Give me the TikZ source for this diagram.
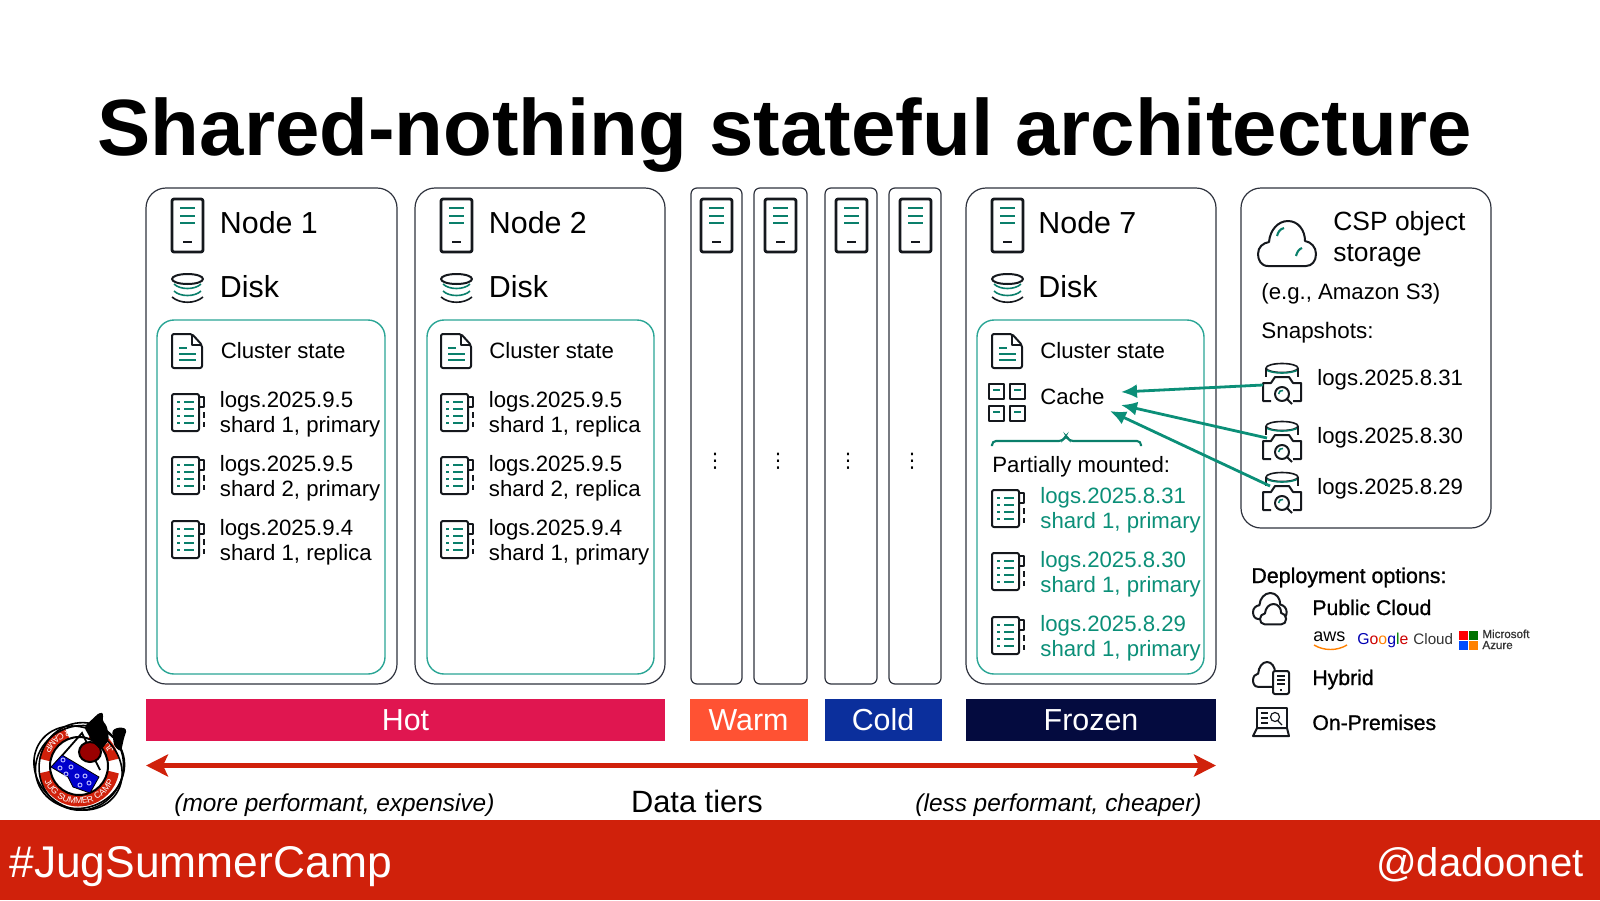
\documentclass[tikz,border=0pt]{standalone}
\usepackage{fontspec}
\usepackage{amsmath}
\usepackage{xcolor}
\usetikzlibrary{arrows.meta,decorations.text}
\setmainfont{Liberation Sans}
\newfontfamily\semifont[FakeBold=1]{Liberation Sans}
\newfontfamily\dotsfont{DejaVu Sans}
\newcommand{\fsz}[1]{\fontsize{#1}{1.1\dimexpr#1pt\relax}\selectfont}
\definecolor{tealdark}{HTML}{0A7F6B}
\definecolor{tealbox}{HTML}{2AA595}
\definecolor{tealtext}{HTML}{0B8F78}
\definecolor{boxline}{HTML}{2E323D}
\definecolor{iconblack}{HTML}{15181D}
\definecolor{hotbar}{HTML}{E01650}
\definecolor{warmbar}{HTML}{FF5233}
\definecolor{coldbar}{HTML}{0B2F9C}
\definecolor{frozenbar}{HTML}{040B3F}
\definecolor{redbar}{HTML}{D0210B}
\tikzset{
  nodebox/.style={draw=boxline,line width=0.6pt,rounded corners=10pt},
  slimbox/.style={draw=boxline,line width=0.6pt,rounded corners=3pt},
  statebox/.style={draw=tealbox,line width=0.7pt,rounded corners=8.5pt},
  iconline/.style={draw=iconblack,line width=1pt,line join=round},
  tealline/.style={draw=tealdark,line width=1.05pt},
  bigtxt/.style={anchor=base west,inner sep=0pt,font=\fsz{15.2}},
  midtxt/.style={anchor=base west,inner sep=0pt,font=\fsz{11.1}},
  twoline/.style={anchor=west,inner sep=0pt,align=left,font=\fontsize{11.1}{12.4}\selectfont},
  tierbar/.style={minimum height=21pt,inner sep=0pt,text=white,font=\fsz{15.2}},
  snaparrow/.style={draw=tealtext,line width=1.4pt,-{Latex[length=8pt,width=7pt]}},
  pics/server/.style={code={
    \draw[iconline,line width=1.4pt,rounded corners=1pt] (0,0) rectangle (31,53);
    \draw[tealline] (8,9) -- (23,9) (8,17) -- (23,17) (8,24) -- (23,24);
    \draw[iconline,line width=1.4pt] (11,43) -- (20,43);
  }},
  pics/disk/.style={code={
    \draw[iconline] (15.5,6) ellipse (15.5 and 5);
    \draw[tealline,line width=0.8pt] (2,11) .. controls (8,17) and (23,17) .. (29,11);
    \draw[tealline,line width=0.8pt] (2,18) .. controls (8,24) and (23,24) .. (29,18);
    \draw[iconline,line width=0.8pt] (0,24) .. controls (8,31) and (23,31) .. (31,24);
  }},
  pics/statedoc/.style={code={
    \draw[iconline,rounded corners=1pt] (0,0) -- (20,0) -- (30,11) -- (30,34) -- (0,34) -- cycle;
    \draw[iconline] (20,0) -- (20,11) -- (30,11);
    \draw[tealline] (7,14) -- (15,14) (7,20) -- (24,20) (7,26) -- (24,26);
  }},
  pics/sharddoc/.style={code={
    \draw[iconline,rounded corners=1pt] (0,0) rectangle (27,37);
    \draw[iconline] (27,3) -- (32,3) -- (32,13) -- (27,13) (32,18) -- (32,24) (32,28) -- (32,33);
    \draw[tealline] (5,8) -- (8,8) (12,8) -- (22,8) (5,15) -- (8,15) (12,15) -- (22,15)
      (5,22) -- (8,22) (12,22) -- (22,22) (5,29) -- (8,29) (12,29) -- (22,29);
  }},
  pics/cachegrid/.style={code={
    \draw[iconline] (0,0) rectangle (15,15) (21,0) rectangle (36,15) (0,22) rectangle (15,37) (21,22) rectangle (36,37);
    \draw[tealline] (4,6) -- (11,6) (25,6) -- (32,6) (4,28) -- (11,28) (25,28) -- (32,28);
  }},
  pics/snapshot/.style={code={
    \draw[iconline,line width=0.8pt] (0,5) ellipse (16 and 4.5);
    \draw[tealline,line width=0.8pt] (-16,7) .. controls (-8,11) and (8,11) .. (16,7);
    \draw[iconline,line width=0.8pt] (-16,5) -- (-16,14) (16,5) -- (16,14);
    \draw[iconline] (-11,38) -- (-19,38) -- (-19,20) -- (-11,20) -- (-7,14) -- (7,14) -- (11,20) -- (19,20) -- (19,38) -- (11,38);
    \draw[iconline,fill=white] (0,31) circle (7);
    \draw[tealline,line width=0.8pt] (-3.5,31) .. controls (-3.5,28) and (-1,27.5) .. (1,27.5);
    \draw[iconline] (5,36) -- (10,41);
  }},
  pics/cloudicon/.style={code={
    \draw[iconline,fill=white] (10,45) .. controls (3,45) and (0,39) .. (0,33)
      .. controls (0,26) and (5,22) .. (11,21) .. controls (12,9) and (20,0) .. (30,0)
      .. controls (40,0) and (47,9) .. (47,20) .. controls (53,21) and (58,26) .. (58,33)
      .. controls (58,40) and (54,45) .. (48,45) -- cycle;
  }}
}
\begin{document}
\begin{tikzpicture}[x=0.5pt,y=-0.5pt]
\useasboundingbox (0,0) rectangle (1600,900);
\node[anchor=base,inner sep=0pt,font=\bfseries\fsz{39.9}] (title) at (785,155.5) {Shared-nothing stateful architecture};
\draw[nodebox] (146,188) rectangle (397,684);
\draw[nodebox] (415,188) rectangle (665,684);
\draw[slimbox] (691,188) rectangle (742,684);
\draw[slimbox] (754,188) rectangle (807,684);
\draw[slimbox] (825,188) rectangle (877,684);
\draw[slimbox] (889,188) rectangle (941,684);
\draw[nodebox] (966,188) rectangle (1216,684);
\draw[nodebox] (1241,188) rectangle (1491,528);
\draw[statebox] (157,320) rectangle (385,674);
\draw[statebox] (427,320) rectangle (654,674);
\draw[statebox] (977,320) rectangle (1204,674);
\pic at (172,199) {server};
\node[bigtxt] (node1) at (219.5,233) {Node 1};
\pic at (172,273) {disk};
\node[bigtxt] (disk1) at (219.5,297) {Disk};
\pic at (172,334) {statedoc};
\node[midtxt] (state1) at (220.5,358) {Cluster state};
\pic at (172,394) {sharddoc};
\node[twoline] (shard1a) at (219.5,414.5) {logs.2025.9.5\\shard 1, primary};
\pic at (172,457) {sharddoc};
\node[twoline] (shard1b) at (219.5,478.5) {logs.2025.9.5\\shard 2, primary};
\pic at (172,521) {sharddoc};
\node[twoline] (shard1c) at (219.5,542.5) {logs.2025.9.4\\shard 1, replica};
\pic at (441,199) {server};
\node[bigtxt] (node2) at (488.5,233) {Node 2};
\pic at (441,273) {disk};
\node[bigtxt] (disk2) at (488.5,297) {Disk};
\pic at (441,334) {statedoc};
\node[midtxt] (state2) at (489,358) {Cluster state};
\pic at (441,394) {sharddoc};
\node[twoline] (shard2a) at (488.5,414.5) {logs.2025.9.5\\shard 1, replica};
\pic at (441,457) {sharddoc};
\node[twoline] (shard2b) at (488.5,478.5) {logs.2025.9.5\\shard 2, replica};
\pic at (441,521) {sharddoc};
\node[twoline] (shard2c) at (488.5,542.5) {logs.2025.9.4\\shard 1, primary};
\pic at (701,199) {server};
\pic at (765,199) {server};
\pic at (836,199) {server};
\pic at (900,199) {server};
\node[inner sep=0pt,font=\dotsfont\fsz{10}] (dots1) at (715,461) {⋮};
\node[inner sep=0pt,font=\dotsfont\fsz{10}] (dots2) at (778,461) {⋮};
\node[inner sep=0pt,font=\dotsfont\fsz{10}] (dots3) at (848,461) {⋮};
\node[inner sep=0pt,font=\dotsfont\fsz{10}] (dots4) at (912,461) {⋮};
\pic at (992,199) {server};
\node[bigtxt] (node7) at (1038,233) {Node 7};
\pic at (992,273) {disk};
\node[bigtxt] (disk7) at (1038,297) {Disk};
\pic at (992,334) {statedoc};
\node[midtxt] (state7) at (1040,358) {Cluster state};
\pic at (989,384) {cachegrid};
\node[midtxt] (cache) at (1040,404) {Cache};
\draw[tealline,rounded corners=2pt] (992,446) -- (992,441) -- (1063,441) -- (1066,435) -- (1069,441) -- (1141,441) -- (1141,446);
\node[midtxt] (mounted) at (992,472) {Partially mounted:};
\pic at (992,490) {sharddoc};
\node[twoline,text=tealtext] (shard7a) at (1040,510.5) {logs.2025.8.31\\shard 1, primary};
\pic at (992,553) {sharddoc};
\node[twoline,text=tealtext] (shard7b) at (1040,574.5) {logs.2025.8.30\\shard 1, primary};
\pic at (992,617) {sharddoc};
\node[twoline,text=tealtext] (shard7c) at (1040,638.5) {logs.2025.8.29\\shard 1, primary};
\pic at (1258,221) {cloudicon};
\draw[tealline] (1277,236) .. controls (1278,232) and (1280,229) .. (1284,228);
\draw[tealline] (1296,256) .. controls (1297,252) and (1299,249) .. (1302,248);
\node[anchor=base west,inner sep=0pt,font=\fsz{13.2}] (csp) at (1333,230) {CSP object};
\node[anchor=base west,inner sep=0pt,font=\fsz{13.2}] (csp2) at (1333,261) {storage};
\node[anchor=base west,inner sep=0pt,font=\fsz{11.1}] (amazon) at (1261,299) {(e.g., Amazon S3)};
\node[anchor=base west,inner sep=0pt,font=\fsz{11.2}] (snapshots) at (1261,338) {Snapshots:};
\pic at (1282,363) {snapshot};
\node[midtxt] (snap1) at (1317,385) {logs.2025.8.31};
\pic at (1282,421) {snapshot};
\node[midtxt] (snap2) at (1317,443) {logs.2025.8.30};
\pic at (1282,472) {snapshot};
\node[midtxt] (snap3) at (1317,494) {logs.2025.8.29};
\coordinate (from1) at (1263,385);
\coordinate (from2) at (1267,438);
\coordinate (from3) at (1270,486);
\coordinate (to1) at (1121,392);
\coordinate (to2) at (1121,405);
\coordinate (to3) at (1110,411);
\draw[snaparrow] (from1) -- (to1);
\draw[snaparrow] (from2) -- (to2);
\draw[snaparrow] (from3) -- (to3);
\node[anchor=base west,inner sep=0pt,font=\semifont\fsz{10.7}] (deploy) at (1251,583) {Deployment options:};
\pic[scale=0.58] at (1253,593) {cloudicon};
\pic[scale=0.45] at (1260,604) {cloudicon};
\node[anchor=base west,inner sep=0pt,font=\semifont\fsz{10.6}] (public) at (1312,615) {Public Cloud};
\node[anchor=base west,inner sep=0pt,font=\fsz{9}] (aws) at (1313,641) {aws};
\draw[draw=orange,line width=0.7pt] (1314,645) .. controls (1324,651) and (1337,651) .. (1347,645);
\node[anchor=base west,inner sep=0pt,font=\fsz{7.9}] (google) at (1357,644) {\textcolor{blue!70!black}{G}\textcolor{red!80!black}{o}\textcolor{orange}{o}\textcolor{blue!70!black}{g}\textcolor{green!50!black}{l}\textcolor{red!80!black}{e}};
\node[anchor=base west,inner sep=0pt,font=\fsz{7.6},text=black!80] (gcloud) at (1413,644) {Cloud};
\fill[red] (1459,631) rectangle (1468,640);
\fill[green!45!black] (1469,631) rectangle (1478,640);
\fill[blue!70!cyan] (1459,641) rectangle (1468,650);
\fill[orange] (1469,641) rectangle (1478,650);
\node[anchor=base west,inner sep=0pt,font=\semifont\fsz{5.8},text=black!80] (msft) at (1482,638) {Microsoft};
\node[anchor=base west,inner sep=0pt,font=\semifont\fsz{5.8},text=black!80] (azure) at (1482,649) {Azure};
\pic[xscale=0.47,yscale=0.55] at (1253,662) {cloudicon};
\draw[iconline,fill=white,rounded corners=1pt] (1273,671) rectangle (1289,694);
\draw[iconline,line width=0.6pt] (1277,676) -- (1285,676) (1277,680) -- (1285,680) (1277,684) -- (1285,684) (1280,690) -- (1282,690);
\node[anchor=base west,inner sep=0pt,font=\semifont\fsz{10.6}] (hybrid) at (1312,685) {Hybrid};
\draw[iconline] (1257,728) -- (1257,708) -- (1287,708) -- (1287,728);
\draw[iconline] (1257,728) -- (1253,736) -- (1289,736) -- (1287,728) -- cycle;
\draw[iconline,line width=0.6pt] (1261,713) -- (1268,713) (1261,718) -- (1268,718) (1261,723) -- (1268,723);
\draw[iconline,line width=0.6pt] (1275,717) circle (4.5) (1278,721) -- (1282,725);
\node[anchor=base west,inner sep=0pt,font=\semifont\fsz{10.6}] (onprem) at (1312,730) {On-Premises};
\node[tierbar,fill=hotbar,minimum width=259.5pt] (hot) at (405.5,720) {Hot};
\node[tierbar,fill=warmbar,minimum width=59pt] (warm) at (748.5,720) {Warm};
\node[tierbar,fill=coldbar,minimum width=58.5pt] (cold) at (883,720) {Cold};
\node[tierbar,fill=frozenbar,minimum width=125pt] (frozen) at (1091,720) {Frozen};
\coordinate (tierleft) at (146,765.5);
\coordinate (tierright) at (1216,765.5);
\draw[draw=redbar,line width=2.4pt,{Stealth[length=11pt,width=11pt,inset=2.5pt]}-{Stealth[length=11pt,width=11pt,inset=2.5pt]}] (tierleft) -- (tierright);
\node[anchor=base west,inner sep=0pt,font=\itshape\fsz{12.2}] (perf) at (174,811) {(more performant, expensive)};
\node[anchor=base,inner sep=0pt,font=\fsz{15.4}] (tiers) at (697,812) {Data tiers};
\node[anchor=base east,inner sep=0pt,font=\itshape\fsz{12.2}] (cheap) at (1202,811) {(less performant, cheaper)};
\fill[redbar] (0,820) rectangle (1600,900);
\node[anchor=base west,inner sep=0pt,text=white,font=\fsz{22.2}] (jug) at (9,877) {\#JugSummerCamp};
\node[anchor=base east,inner sep=0pt,text=white,font=\fsz{20}] (dadoo) at (1584,876) {@dadoonet};
\fill[white] (79,766) circle (41);
\draw[redbar,line width=5.5pt] (79,766) ++(170:35) arc (170:10:35);
\draw[redbar,line width=5.5pt] (79,766) ++(190:35) arc (190:250:35);
\draw[redbar,line width=5.5pt] (79,766) ++(290:35) arc (290:350:35);
\path[decorate,decoration={text along path,text align=center,text={|\color{white}\fontsize{4.4}{5}\selectfont|JUG SUMMER CAMP}}] (79,766) ++(165:38) arc (165:15:38);
\path[decorate,decoration={text along path,text align=center,text={|\color{white}\fontsize{4.4}{5}\selectfont|JUG SUMMER CAMP}}] (79,766) ++(345:38) arc (345:195:38);
\draw[black,line width=1pt] (79,766) circle (29);
\draw[black,line width=0.9pt] (52,767) -- (82,733) -- (100,770);
\fill[blue!80!black,draw=black] (51,767) -- (62,755) -- (99,777) -- (90,793) -- (73,787) -- (68,777) -- cycle;
\foreach \px/\py in {63/760,60/768,71/767,66/774,77/776,85/776,89/783,80/785}
  \draw[white!70!blue,line width=0.5pt] (\px,\py) circle (2);
\fill[red!60!black,draw=black,line width=1pt] (90,752) ellipse (11 and 10);
\draw[black,line width=0.8pt,rotate around={20:(80,767)}] (80,767) ellipse (45 and 41);
\draw[black,line width=0.8pt,rotate around={-35:(80,767)}] (79,769) ellipse (46 and 40);
\draw[black,line width=0.8pt,rotate around={70:(80,767)}] (81,768) ellipse (44 and 42);
\fill[black,rounded corners=1.5pt] (84,727) -- (100,712) -- (104,714) -- (102,720) -- (107,726) -- (109,740) -- (101,750) -- (92,741) -- cycle;
\fill[black,rounded corners=1.5pt] (112,730) -- (120,727) -- (127,729) -- (124,738) -- (121,752) -- (114,746) -- cycle;
\end{tikzpicture}
\end{document}
